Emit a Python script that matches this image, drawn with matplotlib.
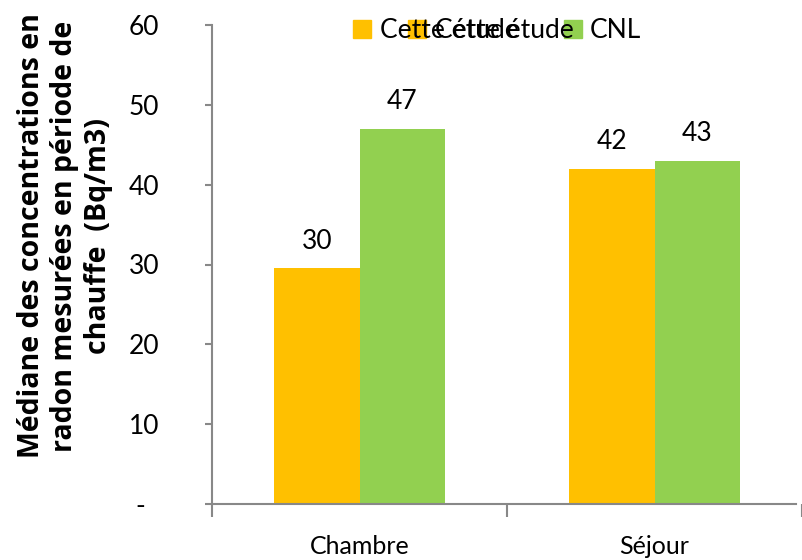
import matplotlib
matplotlib.use("Agg")
import matplotlib.pyplot as plt
from matplotlib.patches import Rectangle
import numpy as np

plt.rcParams['font.family'] = ['Lato', 'DejaVu Sans']

categories = ["Chambre", "Séjour"]
series_names = ["Cette étude", "CNL"]
cette_etude = [29.5, 42.0]
cnl = [47.0, 43.0]
value_labels = [["30", "42"], ["47", "43"]]
yticks = [0, 10, 20, 30, 40, 50, 60]
ytick_labels = ["-  ", "10", "20", "30", "40", "50", "60"]
legend_entries = ["Cette étude", "Cette étude", "CNL"]
ylabel = "Médiane des concentrations en\nradon mesurées en période de\nchauffe  (Bq/m3)"

colors = ["#FFC000", "#92D050"]
legend_colors = ["#FFC000", "#FFC000", "#92D050"]

W, H = 802, 560
fig = plt.figure(figsize=(W / 100, H / 100), dpi=100)
ax = fig.add_axes([212 / W, 1 - 504 / H, (W - 212) / W, (504 - 25) / H])

x = np.arange(len(categories))
bw = 0.29
series = [cette_etude, cnl]
for i, (vals, col) in enumerate(zip(series, colors)):
    pos = x + (i - 0.5) * bw
    ax.bar(pos, vals, width=bw, color=col, zorder=2)
    for p, v, lab in zip(pos, vals, value_labels[i]):
        ax.annotate(lab, (p, v), xytext=(0, 14), textcoords="offset points",
                    ha="center", va="baseline", fontsize=19)

ax.set_xlim(-0.5, 1.48)
ax.set_ylim(0, 60)
ax.set_yticks(yticks)
ax.set_yticklabels(ytick_labels, fontsize=19)
ax.set_xticks(x)
ax.set_xticklabels(categories, fontsize=18)
ax.tick_params(axis="x", which="major", length=0, pad=22)
ax.set_xticks([-0.5, 0.5, 1.5], minor=True)
ax.tick_params(axis="x", which="minor", length=9, width=1.5, color="#888888", direction="out")
ax.tick_params(axis="y", length=5, width=1.5, color="#888888", pad=33)

for s in ["top", "right"]:
    ax.spines[s].set_visible(False)
for s in ["left", "bottom"]:
    ax.spines[s].set_color("#888888")
    ax.spines[s].set_linewidth(1.5)
ax.spines["bottom"].set_bounds(-0.5, 1.48)

fig.text(65 / W, 1 - 236 / H, ylabel, rotation=90, ha="center", va="center",
         fontsize=20.5, fontweight="bold", family=["Open Sans", "DejaVu Sans"],
         multialignment="center", linespacing=1.2)

# legend (manually placed, overlapping as in reference)
marker_x = [353, 408, 564]
text_x = [380, 435, 590]
for mx, tx, lab, col in zip(marker_x, text_x, legend_entries, legend_colors):
    fig.patches.append(Rectangle((mx / W, 1 - 38 / H), 18 / W, 18 / H,
                                 transform=fig.transFigure, color=col, zorder=3))
    fig.text(tx / W, 1 - 30 / H, lab, ha="left", va="center", fontsize=19, zorder=4)

fig.savefig("out.png", dpi=100)
